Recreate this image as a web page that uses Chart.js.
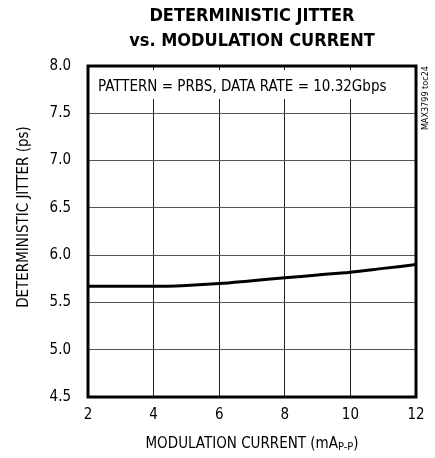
<!DOCTYPE html>
<html>
<head>
<meta charset="utf-8">
<script src="https://cdn.jsdelivr.net/npm/chart.js@4"></script>
<style>
  html, body { margin: 0; padding: 0; background: #fff; }
  #wrap { width: 435px; height: 458px; }
</style>
</head>
<body>
<div id="wrap"><canvas id="chart"></canvas></div>
<script>
// Data
const modCurrent = [2, 3, 4, 5, 6, 7, 8, 9, 10, 11, 12];
const jitterPs = [5.67, 5.67, 5.67, 5.68, 5.70, 5.73, 5.76, 5.79, 5.82, 5.86, 5.90];
const xTicks = [2, 4, 6, 8, 10, 12];
const yTicks = [4.5, 5.0, 5.5, 6.0, 6.5, 7.0, 7.5, 8.0];
const titleLines = ['DETERMINISTIC JITTER', 'vs. MODULATION CURRENT'];
const yTitle = 'DETERMINISTIC JITTER (ps)';
const noteText = 'PATTERN = PRBS, DATA RATE = 10.32Gbps';
const sideText = 'MAX3799 toc24';

const narrow = "'Liberation Sans Narrow', 'DejaVu Sans Condensed', 'Liberation Sans', sans-serif";

// Title, note box, side label, axis titles, frame
const decorations = {
    id: 'decorations',
    beforeDatasetsDraw(chart) {
        const ctx = chart.ctx;
        const area = chart.chartArea;
        // white box behind the note, cuts the vertical grid lines
        ctx.save();
        ctx.fillStyle = '#fff';
        ctx.fillRect(area.left + 2, area.top + 4, area.right - area.left - 4, 29);
        ctx.restore();
    },
    afterDraw(chart) {
        const ctx = chart.ctx;
        const area = chart.chartArea;
        const cx = (area.left + area.right) / 2;
        ctx.save();

        // title
        ctx.fillStyle = '#000';
        ctx.textAlign = 'center';
        ctx.textBaseline = 'middle';
        ctx.font = "bold 18px " + narrow;
        ctx.fillText(titleLines[0], cx, 16);
        ctx.fillText(titleLines[1], cx, 41);

        // note inside plot
        ctx.font = "15px " + narrow;
        ctx.textAlign = 'left';
        ctx.fillText(noteText, area.left + 10, area.top + 21);

        // frame
        ctx.lineWidth = 3;
        ctx.strokeStyle = '#000';
        ctx.strokeRect(area.left, area.top, area.right - area.left, area.bottom - area.top);

        // side label
        ctx.save();
        ctx.translate(area.right + 10, area.top);
        ctx.rotate(-Math.PI / 2);
        ctx.font = "9px " + narrow;
        ctx.textAlign = 'right';
        ctx.textBaseline = 'middle';
        ctx.fillText(sideText, 0, 0);
        ctx.restore();

        // y title
        ctx.save();
        ctx.translate(24, 217);
        ctx.rotate(-Math.PI / 2);
        ctx.font = "15px " + narrow;
        ctx.textAlign = 'center';
        ctx.textBaseline = 'middle';
        ctx.fillText(yTitle, 0, 0);
        ctx.restore();

        // x title with subscript
        const main = 'MODULATION CURRENT (mA';
        const sub = 'P-P';
        const tail = ')';
        ctx.textBaseline = 'alphabetic';
        ctx.textAlign = 'left';
        ctx.font = "15px " + narrow;
        const wMain = ctx.measureText(main).width;
        const wTail = ctx.measureText(tail).width;
        ctx.font = "11px " + narrow;
        const wSub = ctx.measureText(sub).width;
        let x = cx - (wMain + wSub + wTail) / 2;
        const base = 448;
        ctx.font = "15px " + narrow;
        ctx.fillText(main, x, base);
        x += wMain;
        ctx.font = "11px " + narrow;
        ctx.fillText(sub, x, base + 2);
        x += wSub;
        ctx.font = "15px " + narrow;
        ctx.fillText(tail, x, base);

        ctx.restore();
    }
};

const ctx = document.getElementById('chart').getContext('2d');
const chart = new Chart(ctx, {
    type: 'line',
    data: {
        datasets: [{
            data: modCurrent.map((x, i) => ({ x: x, y: jitterPs[i] })),
            borderColor: '#000',
            borderWidth: 3,
            pointRadius: 0,
            tension: 0.4,
            cubicInterpolationMode: 'monotone',
            fill: false
        }]
    },
    options: {
        responsive: true,
        maintainAspectRatio: false,
        animation: false,
        layout: { padding: { top: 66, right: 19, left: 0, bottom: 0 } },
        plugins: {
            legend: { display: false },
            tooltip: { enabled: false },
            title: { display: false }
        },
        scales: {
            x: {
                type: 'linear',
                min: 2,
                max: 12,
                afterBuildTicks: axis => { axis.ticks = xTicks.map(v => ({ value: v })); },
                afterFit: axis => { axis.height = 61; },
                grid: { color: '#222', lineWidth: 1, drawTicks: false },
                border: { display: false },
                ticks: {
                    color: '#000',
                    padding: 9,
                    font: { family: narrow, size: 15 },
                    callback: v => String(v)
                },
                title: { display: false }
            },
            y: {
                min: 4.5,
                max: 8.0,
                afterBuildTicks: axis => { axis.ticks = yTicks.map(v => ({ value: v })); },
                afterFit: axis => { axis.width = 88; },
                grid: { color: '#555', lineWidth: 1, drawTicks: false },
                border: { display: false },
                ticks: {
                    color: '#000',
                    padding: 17,
                    font: { family: narrow, size: 15 },
                    callback: v => v.toFixed(1)
                },
                title: { display: false }
            }
        }
    },
    plugins: [decorations]
});
</script>
</body>
</html>
